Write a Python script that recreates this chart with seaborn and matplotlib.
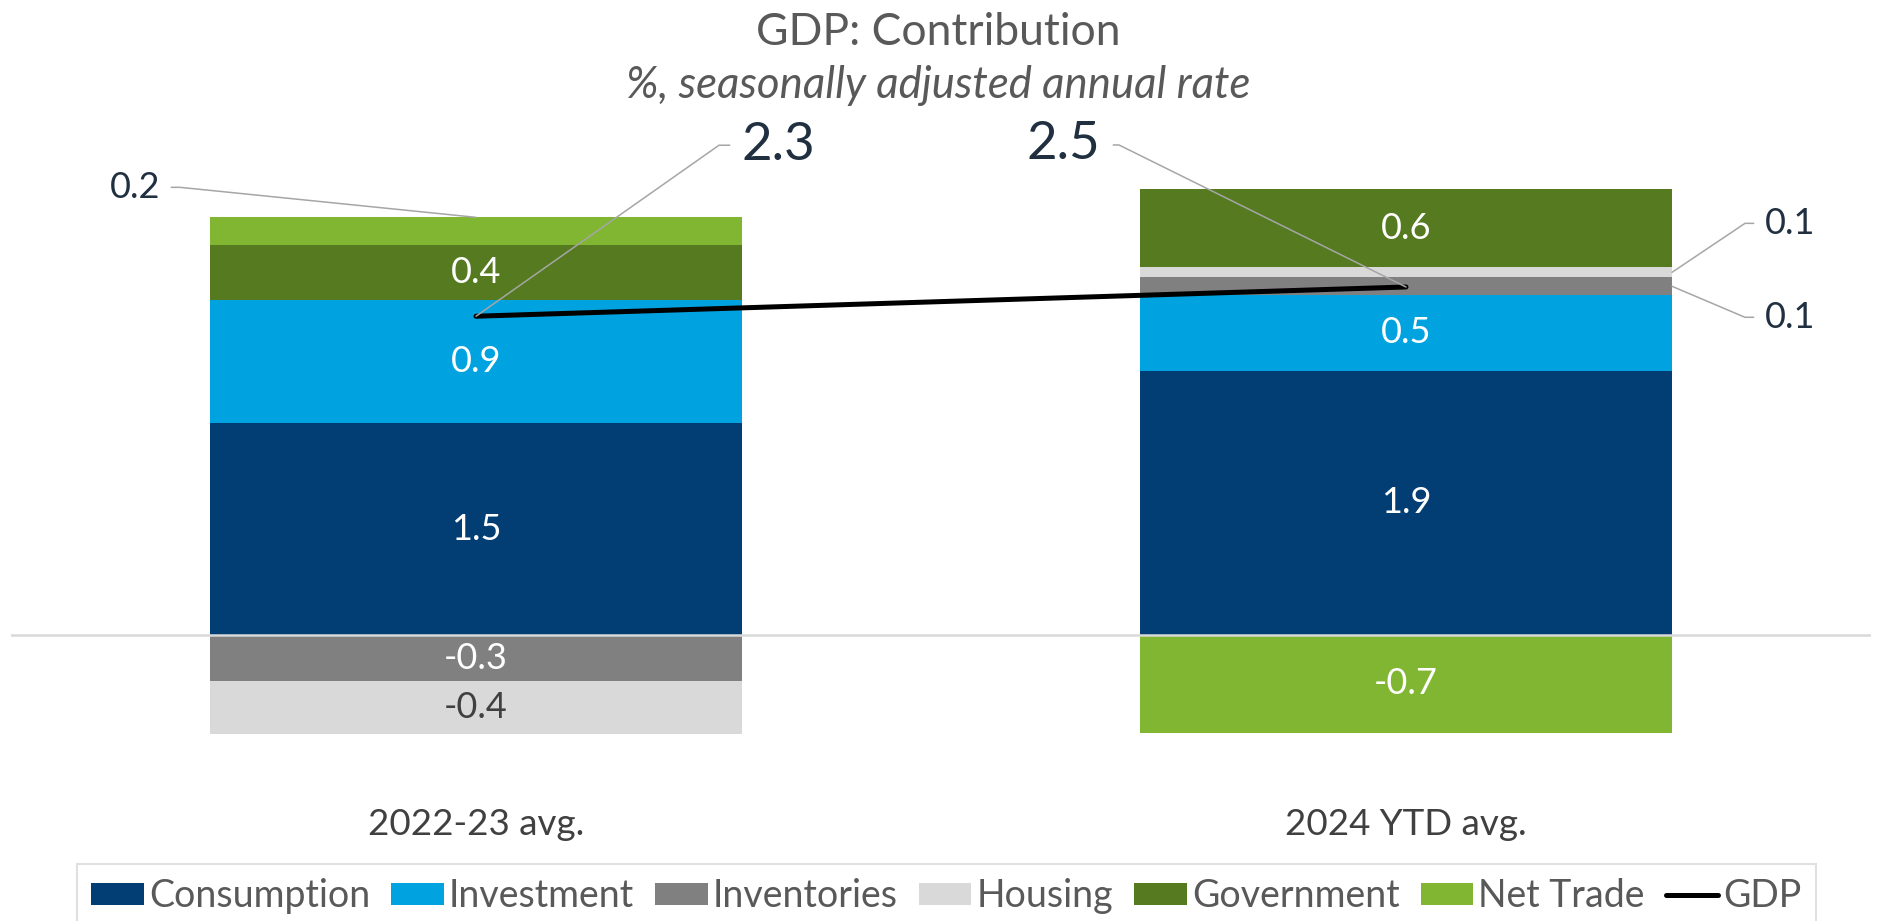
import numpy as np
import pandas as pd
import matplotlib.pyplot as plt
import seaborn as sns

# values (% contribution, SAAR)
periods = ["2022-23 avg.", "2024 YTD avg."]
components = ["Consumption", "Investment", "Inventories", "Housing", "Government", "Net Trade"]
consumption = [1.52, 1.90]
investment = [0.89, 0.54]
inventories = [-0.33, 0.13]
housing = [-0.38, 0.07]
government = [0.39, 0.56]
net_trade = [0.20, -0.70]
gdp = [2.29, 2.50]

colors = {"Consumption": "#023E73", "Investment": "#00A3E0", "Inventories": "#808080",
          "Housing": "#D9D9D9", "Government": "#557A20", "Net Trade": "#80B632"}

df = pd.DataFrame({"period": periods, "Consumption": consumption, "Investment": investment,
                   "Inventories": inventories, "Housing": housing,
                   "Government": government, "Net Trade": net_trade})

sns.set_theme(style="white")
plt.rcParams["font.family"] = ["Lato", "DejaVu Sans"]

W, H = 1877, 921
fig = plt.figure(figsize=(W / 100, H / 100), dpi=100)
ax = fig.add_axes([11 / W, 126 / H, 1860 / W, 695 / H])

x = np.arange(len(periods))
width = 0.572
dark = "#203040"
gray_txt = "#595959"

pos = np.zeros(len(x))
neg = np.zeros(len(x))
bottoms_of = {}
for comp in components:
    vals = df[comp].to_numpy()
    bottoms = np.where(vals >= 0, pos, neg)
    ax.bar(x, vals, width, bottom=bottoms, color=colors[comp], linewidth=0, label=comp, zorder=2)
    bottoms_of[comp] = bottoms
    pos = pos + np.clip(vals, 0, None)
    neg = neg + np.clip(vals, None, 0)

ax.axhline(0, color="#D9D9D9", lw=1.8, zorder=2.5)

sns.lineplot(x=x, y=gdp, ax=ax, color="black", linewidth=3.6, label="GDP",
             solid_capstyle="round", zorder=3, legend=False)

# labels inside the bars
small = {("Net Trade", 0), ("Housing", 1), ("Inventories", 1)}
for comp in components:
    vals = df[comp].to_numpy()
    for i, v in enumerate(vals):
        if (comp, i) in small:
            continue
        c = "#404040" if comp == "Housing" else "white"
        ax.text(x[i], bottoms_of[comp][i] + v / 2, f"{v:.1f}", ha="center", va="center",
                fontsize=26, color=c, zorder=4)


def leader(xy, text, ox, oy, size, gap=8, tick=12):
    side = 1 if ox > 0 else -1
    cx = ox - side * (gap + tick)
    ang = np.degrees(np.arctan2(oy, cx))
    ax.annotate(text, xy=xy, xytext=(ox, oy), textcoords="offset pixels",
                ha="left" if side > 0 else "right", va="center", fontsize=size, color=dark,
                zorder=5,
                arrowprops=dict(arrowstyle="-", color="#A6A6A6", lw=1.1,
                                shrinkA=gap * 0.72, shrinkB=0,
                                relpos=(0 if side > 0 else 1, 0.5),
                                connectionstyle=f"angle,angleA=0,angleB={ang},rad=0"))


# call-outs for the thin segments
nt = df["Net Trade"][0]
leader((x[0], bottoms_of["Net Trade"][0] + nt), f"{nt:.1f}", -316, 30, 26)
hs = df["Housing"][1]
leader((x[1] + width / 2, bottoms_of["Housing"][1] + hs / 2), f"{hs:.1f}", 93, 49, 26)
iv = df["Inventories"][1]
leader((x[1] + width / 2, bottoms_of["Inventories"][1] + iv / 2), f"{iv:.1f}", 93, -31, 26)

# GDP call-outs
leader((x[0], gdp[0]), f"{gdp[0]:.1f}", 266, 171, 38, gap=9, tick=14)
leader((x[1], gdp[1]), f"{gdp[1]:.1f}", -306, 142, 38, gap=10, tick=9)

ax.set_xlim(-0.5, 1.5)
ax.set_ylim(-160 / 139.5, 536 / 139.5)
ax.set_xticks(x, periods)
ax.set_yticks([])
ax.tick_params(axis="x", length=0, pad=9, labelsize=26.5, labelcolor="#404040")
sns.despine(ax=ax, left=True, bottom=True)

fig.text(0.5, 1 - 45 / H, "GDP: Contribution", ha="center", va="baseline",
         fontsize=32, color=gray_txt)
fig.text(0.5, 1 - 98 / H, "%, seasonally adjusted annual rate", ha="center", va="baseline",
         fontsize=31.5, style="italic", color=gray_txt)

handles, labels = ax.get_legend_handles_labels()
order = [labels.index(n) for n in components + ["GDP"]]
leg = fig.legend([handles[k] for k in order], [labels[k] for k in order],
                 loc="upper left", bbox_to_anchor=(77 / W, 1 - 864 / H),
                 ncol=7, frameon=True, fancybox=False, edgecolor="#D9D9D9", fontsize=27,
                 handlelength=1.4, handleheight=0.56, handletextpad=0.14,
                 columnspacing=0.56, borderpad=0.38, borderaxespad=0, labelcolor=gray_txt)
leg.get_frame().set_linewidth(1.5)

fig.savefig("out.png", dpi=100)
